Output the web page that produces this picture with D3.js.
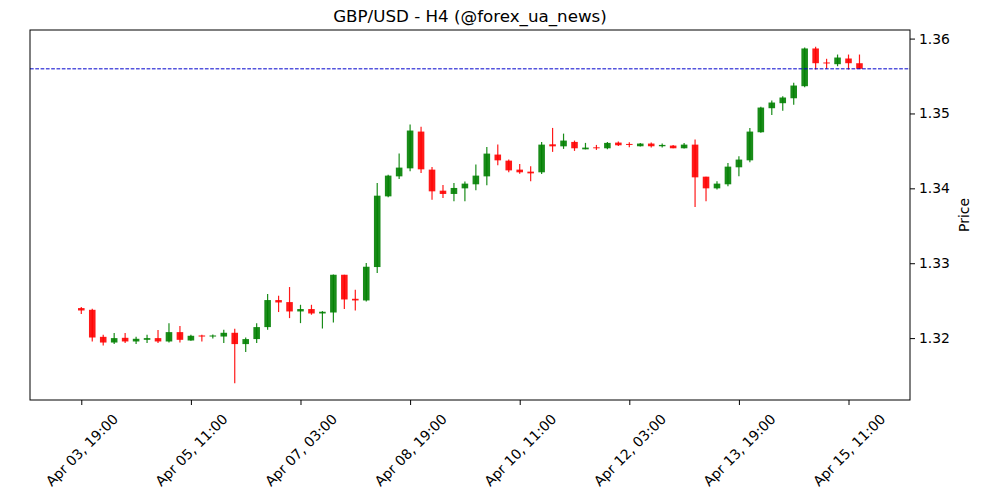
<!DOCTYPE html>
<html>
<head>
<meta charset="utf-8">
<script src="https://cdn.jsdelivr.net/npm/d3@7"></script>
<style>
  body { margin: 0; background: #fff; }
  svg { display: block; font-family: "DejaVu Sans", sans-serif; }
</style>
</head>
<body>
<figure id="chart" style="margin:0"></figure>
<script>
// GBP/USD H4 candles
const opens = [1.32401, 1.32378, 1.32017, 1.31941, 1.32004, 1.31955, 1.31977, 1.32000, 1.31955, 1.32080,
  1.31968, 1.32035, 1.32021, 1.32021, 1.32071, 1.31920, 1.31987, 1.32147, 1.32508, 1.32481,
  1.32356, 1.32388, 1.32329, 1.32342, 1.32846, 1.32525, 1.32503, 1.32949, 1.33893, 1.34160,
  1.34267, 1.34758, 1.34250, 1.33969, 1.33925, 1.34000, 1.34054, 1.34160, 1.34451, 1.34370,
  1.34250, 1.34223, 1.34214, 1.34588, 1.34561, 1.34620, 1.34521, 1.34548, 1.34535, 1.34611,
  1.34593, 1.34562, 1.34598, 1.34562, 1.34571, 1.34535, 1.34584, 1.34156, 1.34000, 1.34054,
  1.34281, 1.34374, 1.34749, 1.35070, 1.35137, 1.35203, 1.35364, 1.35868, 1.35681, 1.35658,
  1.35734, 1.35671];
const highs = [1.32414, 1.32392, 1.32044, 1.32067, 1.32067, 1.32017, 1.32044, 1.32107, 1.32200, 1.32160,
  1.32044, 1.32044, 1.32048, 1.32111, 1.32124, 1.32008, 1.32200, 1.32588, 1.32566, 1.32682,
  1.32445, 1.32445, 1.32361, 1.32850, 1.32846, 1.32646, 1.33003, 1.34072, 1.34183, 1.34464,
  1.34852, 1.34821, 1.34286, 1.34045, 1.34072, 1.34090, 1.34317, 1.34553, 1.34584, 1.34384,
  1.34326, 1.34294, 1.34620, 1.34807, 1.34731, 1.34638, 1.34607, 1.34580, 1.34620, 1.34624,
  1.34615, 1.34607, 1.34611, 1.34598, 1.34580, 1.34607, 1.34651, 1.34156, 1.34094, 1.34340,
  1.34428, 1.34807, 1.35088, 1.35173, 1.35230, 1.35409, 1.35881, 1.35890, 1.35730, 1.35787,
  1.35787, 1.35787];
const lows = [1.32321, 1.31955, 1.31901, 1.31920, 1.31933, 1.31920, 1.31933, 1.31933, 1.31941, 1.31941,
  1.31964, 1.31955, 1.31995, 1.31933, 1.31398, 1.31813, 1.31933, 1.32111, 1.32348, 1.32267,
  1.32200, 1.32312, 1.32128, 1.32208, 1.32388, 1.32369, 1.32490, 1.32869, 1.33880, 1.34126,
  1.34227, 1.34206, 1.33849, 1.33872, 1.33826, 1.33826, 1.33973, 1.34041, 1.34307, 1.34214,
  1.34196, 1.34094, 1.34192, 1.34487, 1.34527, 1.34500, 1.34521, 1.34513, 1.34521, 1.34567,
  1.34548, 1.34558, 1.34544, 1.34544, 1.34535, 1.34531, 1.33751, 1.33826, 1.33983, 1.34027,
  1.34160, 1.34348, 1.34741, 1.34981, 1.35035, 1.35115, 1.35350, 1.35587, 1.35596, 1.35631,
  1.35587, 1.35596];
const closes = [1.32369, 1.32008, 1.31941, 1.32000, 1.31955, 1.31991, 1.32000, 1.31955, 1.32080, 1.31977,
  1.32031, 1.32021, 1.32035, 1.32071, 1.31920, 1.31987, 1.32147, 1.32508, 1.32476, 1.32356,
  1.32388, 1.32329, 1.32352, 1.32846, 1.32516, 1.32503, 1.32953, 1.33902, 1.34170, 1.34277,
  1.34772, 1.34254, 1.33960, 1.33925, 1.34005, 1.34063, 1.34170, 1.34464, 1.34374, 1.34240,
  1.34214, 1.34200, 1.34584, 1.34561, 1.34638, 1.34535, 1.34544, 1.34535, 1.34607, 1.34575,
  1.34580, 1.34598, 1.34562, 1.34580, 1.34535, 1.34584, 1.34147, 1.34000, 1.34063, 1.34290,
  1.34384, 1.34758, 1.35079, 1.35146, 1.35213, 1.35373, 1.35868, 1.35671, 1.35671, 1.35747,
  1.35671, 1.35596];

// every 10th candle gets a label
const tickIndex = [0, 10, 20, 30, 40, 50, 60, 70];
const tickLabels = ["Apr 03, 19:00", "Apr 05, 11:00", "Apr 07, 03:00", "Apr 08, 19:00",
  "Apr 10, 11:00", "Apr 12, 03:00", "Apr 13, 19:00", "Apr 15, 11:00"];
const priceTicks = [1.32, 1.33, 1.34, 1.35, 1.36];

const width = 1000, height = 500;
const margin = {left: 30, right: 90, top: 30, bottom: 100};
const green = "#008000", red = "#ff0000";

const candles = opens.map((o, i) => ({i: i, o: o, h: highs[i], l: lows[i], c: closes[i]}));

const svg = d3.select("#chart").append("svg")
  .attr("width", width)
  .attr("height", height);

const x = d3.scaleLinear()
  .domain([-4.68, 75.61])
  .range([margin.left, width - margin.right]);

const lo = d3.min(lows), hi = d3.max(highs);
const pad = (hi - lo) * 0.05;
const y = d3.scaleLinear()
  .domain([lo - pad, hi + pad])
  .range([height - margin.bottom, margin.top]);

const bodyW = x(0.6) - x(0);

// wicks
svg.append("g").selectAll("line")
  .data(candles)
  .enter()
  .append("line")
  .attr("x1", (d) => x(d.i))
  .attr("x2", (d) => x(d.i))
  .attr("y1", (d) => y(d.h))
  .attr("y2", (d) => y(d.l))
  .attr("stroke", (d) => d.c >= d.o ? green : red)
  .attr("stroke-opacity", 0.9)
  .attr("stroke-width", 1.2);

// bodies
svg.append("g").selectAll("rect")
  .data(candles)
  .enter()
  .append("rect")
  .attr("x", (d) => x(d.i) - bodyW / 2)
  .attr("y", (d) => y(Math.max(d.o, d.c)))
  .attr("width", bodyW)
  .attr("height", (d) => Math.max(1, Math.abs(y(d.o) - y(d.c))))
  .attr("fill", (d) => d.c >= d.o ? green : red)
  .attr("fill-opacity", 0.9);

// last close line
const last = closes[closes.length - 1];
svg.append("line")
  .attr("x1", margin.left)
  .attr("x2", width - margin.right)
  .attr("y1", y(last))
  .attr("y2", y(last))
  .attr("stroke", "#0000cc")
  .attr("stroke-width", 1)
  .attr("stroke-dasharray", "3.7,1.6");

// frame
svg.append("rect")
  .attr("x", margin.left)
  .attr("y", margin.top)
  .attr("width", width - margin.left - margin.right)
  .attr("height", height - margin.top - margin.bottom)
  .attr("fill", "none")
  .attr("stroke", "#000")
  .attr("stroke-width", 1);

// y axis on the right
const yAxis = svg.append("g")
  .attr("transform", "translate(" + (width - margin.right) + ",0)")
  .call(d3.axisRight(y)
    .tickValues(priceTicks)
    .tickFormat(d3.format(".2f"))
    .tickSize(5)
    .tickPadding(4)
    .tickSizeOuter(0));
yAxis.select(".domain").remove();
yAxis.selectAll("text")
  .attr("font-size", "13.9px")
  .attr("font-family", "DejaVu Sans")
  .attr("fill", "#000");

// x axis, labels centred under the tick and turned 45 degrees
const xAxis = svg.append("g")
  .attr("transform", "translate(0," + (height - margin.bottom) + ")")
  .call(d3.axisBottom(x)
    .tickValues(tickIndex)
    .tickFormat((d, k) => tickLabels[k])
    .tickSize(5)
    .tickSizeOuter(0));
xAxis.select(".domain").remove();
xAxis.selectAll("text")
  .attr("font-size", "13.9px")
  .attr("font-family", "DejaVu Sans")
  .attr("fill", "#000")
  .attr("text-anchor", "middle")
  .attr("dominant-baseline", "central")
  .attr("dy", null)
  .attr("y", null)
  .attr("transform", "translate(0,50) rotate(-45)");

// labels
svg.append("text")
  .attr("x", (margin.left + width - margin.right) / 2)
  .attr("y", 22)
  .attr("text-anchor", "middle")
  .attr("font-size", "16.7px")
  .text("GBP/USD - H4 (@forex_ua_news)");

svg.append("text")
  .attr("transform", "translate(969," + ((margin.top + height - margin.bottom) / 2) + ") rotate(-90)")
  .attr("text-anchor", "middle")
  .attr("font-size", "13.9px")
  .text("Price");
</script>
</body>
</html>
